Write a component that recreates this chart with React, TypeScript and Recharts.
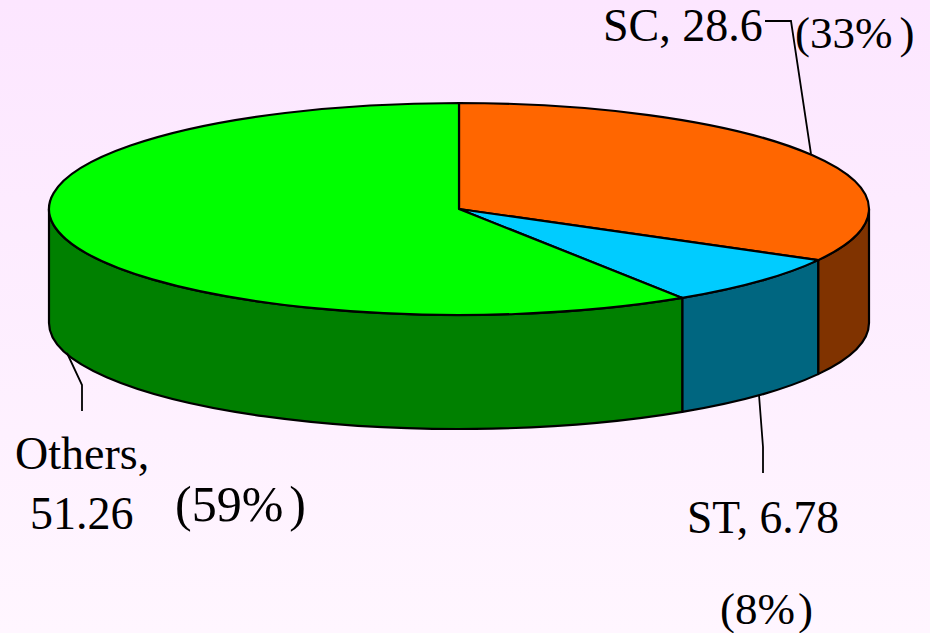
import React from "react";
import { PieChart, Pie } from "recharts";

const categories = ["SC", "ST", "Others"];
const values = [28.6, 6.78, 51.26];
const percents = ["33%", "8%", "59%"];
const topColors = ["#FF6600", "#00CCFF", "#00FF00"];
const sideColors = ["#803300", "#006680", "#008000"];

const data = categories.map((name, i) => ({ name, value: values[i], fill: topColors[i] }));

const RY = 106;
const DEPTH = 114;
const INK = "#000000";
const FONT = "'Liberation Serif', 'Times New Roman', serif";

type Piece = { x: number; y: number; text: string; size: number };
type Layout = { lines: Piece[]; pct: { x: number; y: number; size: number; dx: number }; leader: string };
const labelLayout: Layout[] = [
  {
    lines: [{ x: 603, y: 41, text: "SC, 28.6", size: 46 }],
    pct: { x: 795, y: 48, size: 45, dx: 7 },
    leader: "M765 21 L791 21 L811 154",
  },
  {
    lines: [{ x: 687, y: 533, text: "ST, 6.78", size: 45.5 }],
    pct: { x: 720, y: 624, size: 45, dx: 3 },
    leader: "M759 395 L763 447 L763 473",
  },
  {
    lines: [
      { x: 15, y: 469, text: "Others,", size: 46 },
      { x: 30, y: 529, text: "51.26", size: 46 },
    ],
    pct: { x: 175, y: 521, size: 50, dx: 6 },
    leader: "M67 353 L82 385 L82 411",
  },
];

function EllipticSlice(props: any) {
  const { cx, cy, outerRadius: rx, startAngle, endAngle, index } = props;
  const t0 = 90 - startAngle;
  const t1 = 90 - endAngle;
  const pt = (t: number, dy = 0) => {
    const r = (t * Math.PI) / 180;
    return `${cx + rx * Math.sin(r)} ${cy - RY * Math.cos(r) + dy}`;
  };
  const top = `M${cx} ${cy} L${pt(t0)} A${rx} ${RY} 0 ${t1 - t0 > 180 ? 1 : 0} 1 ${pt(t1)} Z`;
  const a = Math.max(t0, 90);
  const b = Math.min(t1, 270);
  const side =
    b > a
      ? `M${pt(a)} A${rx} ${RY} 0 0 1 ${pt(b)} L${pt(b, DEPTH)} A${rx} ${RY} 0 0 0 ${pt(a, DEPTH)} Z`
      : null;
  return (
    <g>
      {side && <path d={side} fill={sideColors[index]} stroke={INK} strokeWidth={2.2} strokeLinejoin="round" />}
      <path d={top} fill={topColors[index]} stroke={INK} strokeWidth={2.2} strokeLinejoin="round" />
    </g>
  );
}

function SliceLabel(props: any) {
  const { index } = props;
  const layout = labelLayout[index];
  const { pct } = layout;
  return (
    <g>
      <path d={layout.leader} fill="none" stroke={INK} strokeWidth={1.8} />
      {layout.lines.map((l, i) => (
        <text key={i} x={l.x} y={l.y} fontFamily={FONT} fontSize={l.size} fill={INK}>
          {l.text}
        </text>
      ))}
      <text x={pct.x} y={pct.y} fontFamily={FONT} fontSize={pct.size} fill={INK}>
        ({percents[index]}
        <tspan dx={pct.dx}>)</tspan>
      </text>
    </g>
  );
}

export default function App() {
  return (
    <div
      style={{
        position: "absolute",
        left: 0,
        top: 0,
        width: 930,
        height: 633,
        overflow: "hidden",
        background: "linear-gradient(180deg, #FCE6FF 0%, #FFF6FF 100%)",
      }}
    >
      <PieChart width={930} height={633} margin={{ top: 0, right: 0, bottom: 0, left: 0 }}>
        <Pie
          data={data}
          dataKey="value"
          nameKey="name"
          cx={459}
          cy={209}
          innerRadius={0}
          outerRadius={410}
          startAngle={90}
          endAngle={-270}
          isAnimationActive={false}
          shape={EllipticSlice}
          label={SliceLabel}
          labelLine={false}
          stroke="none"
        />
      </PieChart>
    </div>
  );
}
